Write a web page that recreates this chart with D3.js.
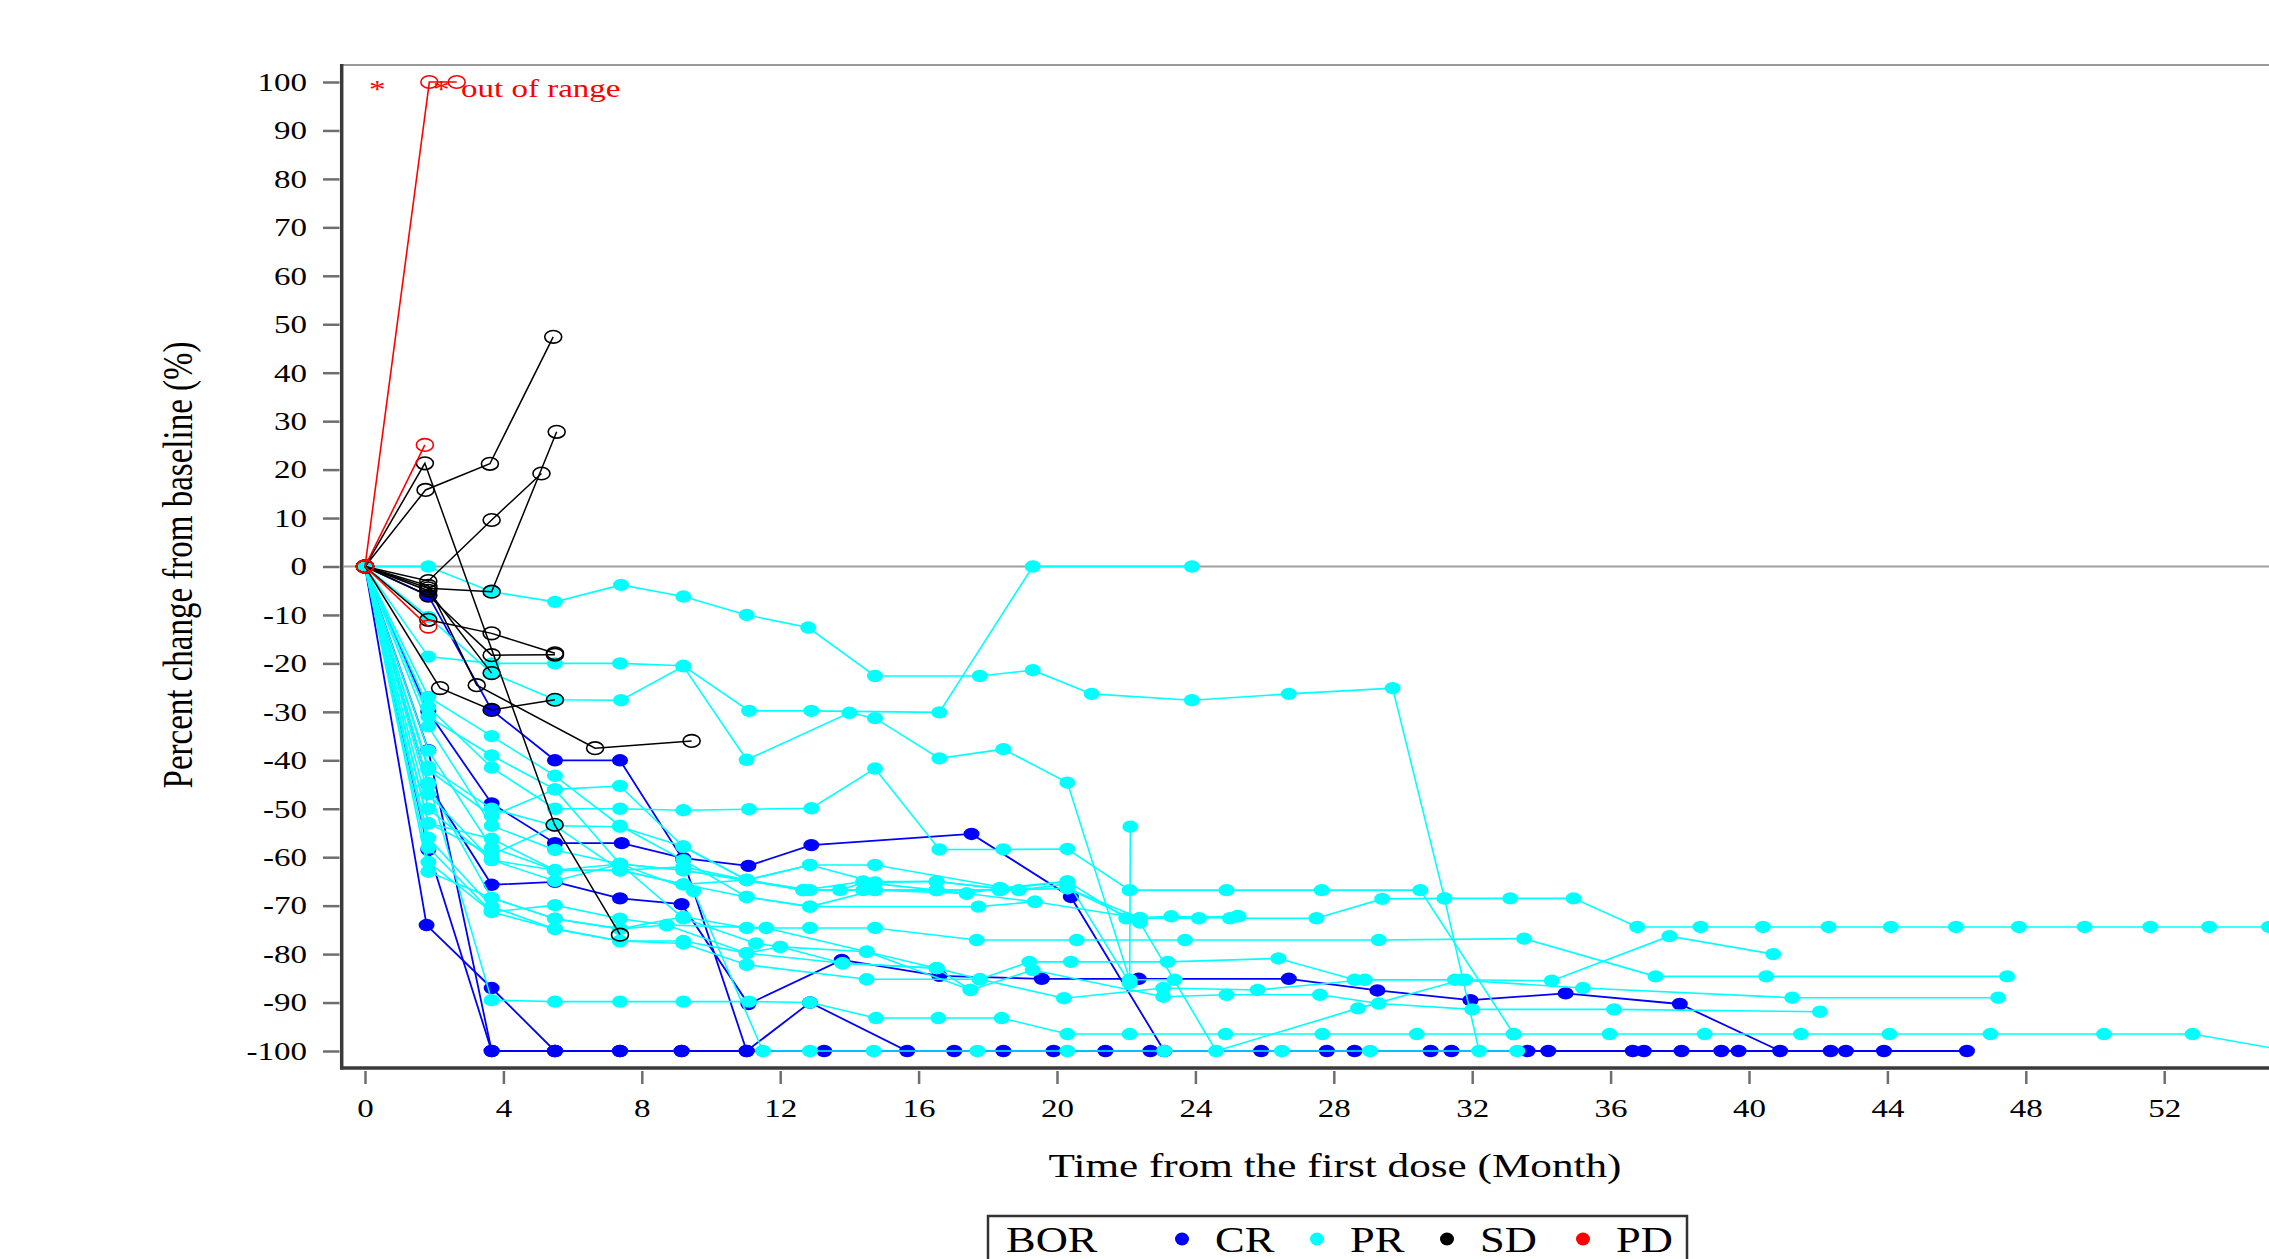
<!DOCTYPE html>
<html>
<head>
<meta charset="utf-8">
<style>
  body { margin: 0; background: #fff; }
  svg { display: block; }
  text { font-family: "Liberation Serif", "Times New Roman", serif; }
</style>
<script src="https://cdn.jsdelivr.net/npm/d3@7"></script>
</head>
<body>
<div id="container"></div>
<script>

// tick labels
const xTicks = [0, 4, 8, 12, 16, 20, 24, 28, 32, 36, 40, 44, 48, 52];
const yTicks = [-100, -90, -80, -70, -60, -50, -40, -30, -20, -10, 0, 10, 20, 30, 40, 50, 60, 70, 80, 90, 100];

// BOR = CR, one array per patient: [month, percent change]
const cr1 = [[0,0],[1.83,-37.9],[3.66,-100],[5.49,-100],[7.37,-100],[9.15,-100],[11.03,-100],[13.27,-100],[17.03,-100],[19.9,-100],[22.7,-100],[25.9,-100],[28.6,-100],[31.4,-100],[34.2,-100],[36.96,-100],[39.7,-100],[42.8,-100],[46.3,-100]];
const cr2 = [[0,0],[1.83,-30],[3.66,-48.9],[5.49,-57.1],[7.42,-57.1],[9.2,-60.2],[11.08,-61.8],[12.9,-57.5],[17.53,-55.2],[20.4,-68.2],[23.1,-100]];
const cr3 = [[0,0],[1.83,-45],[3.66,-65.7],[5.49,-65.1],[7.37,-68.5],[9.15,-69.7],[11.08,-90.3],[13.78,-81.2],[16.6,-84.5],[19.56,-85.1],[22.36,-85.1],[26.7,-85.1],[29.26,-87.5],[31.95,-89.5],[34.7,-88.1],[38.0,-90.3],[40.9,-100]];
const cr4 = [[0,0],[1.83,-6],[3.66,-29.6],[5.49,-40],[7.37,-40],[9.2,-60.6],[11.03,-100],[12.86,-90],[15.67,-100],[18.45,-100],[21.4,-100],[27.8,-100],[30.8,-100],[33.6,-100],[36.64,-100],[38.05,-100],[39.2,-100],[42.36,-100],[43.9,-100]];
const cr5 = [[0,0],[1.78,-74],[3.66,-87],[5.49,-100],[7.37,-100],[9.15,-100]];
const cr6 = [[0,0],[1.83,-58.5],[3.66,-100],[5.49,-100]];

// BOR = PR
const pr1 = [[0,0],[1.83,-18.6],[3.66,-20],[5.49,-20],[7.37,-20],[9.2,-20.5],[11.1,-29.8],[12.9,-29.8],[16.6,-30.1],[19.3,0],[23.9,0]];
const pr2 = [[0,0],[1.83,0],[3.66,-5.2],[5.49,-7.3],[7.4,-3.8],[9.2,-6.2],[11.03,-10],[12.81,-12.6],[14.74,-22.6],[17.77,-22.6],[19.3,-21.4],[21.0,-26.3],[23.9,-27.6],[26.7,-26.3],[29.7,-25.1],[31.2,-68.5],[32.2,-100]];
const pr3 = [[0,0],[1.83,-10.4],[3.66,-22],[5.49,-27.5],[7.4,-27.6],[9.2,-20.6],[11.03,-39.9],[14.0,-30.2],[14.74,-31.3],[16.6,-39.6],[18.45,-37.7],[20.3,-44.6],[22.1,-85.3],[23.4,-85.3]];
const pr4 = [[0,0],[1.83,-29],[3.66,-41.5],[5.49,-50],[7.37,-50],[9.2,-50.3],[11.1,-50.1],[12.9,-49.9],[14.74,-41.7],[16.6,-58.4],[18.45,-58.4],[20.3,-58.3],[22.1,-66.8],[24.9,-66.8],[27.65,-66.8],[30.5,-66.8],[33.2,-96.5]];
const pr5 = [[0,0],[1.83,-44.7],[3.66,-89.5],[5.49,-89.8],[7.37,-89.8],[9.2,-89.8],[11.1,-89.8],[12.86,-90],[14.77,-93.2],[16.57,-93.2],[18.4,-93.2],[20.3,-96.5],[22.1,-96.5],[24.87,-96.5],[27.67,-96.5],[30.4,-96.5],[33.2,-96.5],[35.97,-96.5],[38.72,-96.5],[41.5,-96.5],[44.06,-96.5],[46.98,-96.5],[50.26,-96.5],[52.82,-96.5],[55.6,-100]];
const pr6 = [[0,0],[1.83,-33],[3.66,-53.5],[5.49,-58.5],[7.37,-61.4],[9.2,-62.7],[11.03,-64.7],[12.67,-66.8],[14.4,-65],[16.52,-65],[18.35,-66.4],[20.3,-65],[22.0,-72.6],[23.3,-72.2],[25.0,-72.6],[27.5,-72.6],[29.4,-68.6],[31.2,-68.5],[33.1,-68.5],[34.93,-68.5],[36.77,-74.4],[38.6,-74.4],[40.4,-74.4],[42.3,-74.4],[44.1,-74.4],[45.98,-74.4],[47.8,-74.4],[49.7,-74.4],[51.6,-74.4],[53.3,-74.4],[55.03,-74.4]];
const pr7 = [[0,0],[1.83,-38],[3.66,-58],[5.49,-62.7],[7.37,-62.7],[9.2,-65.6],[11.03,-68.2],[12.86,-70.2],[14.74,-66.8],[16.52,-66.8],[18.35,-66.8],[20.3,-66.4],[22.4,-73.5],[24.6,-100],[28.7,-91.2],[31.7,-85.3],[34.3,-85.5],[37.7,-76.3],[40.7,-80]];
const pr8 = [[0,0],[1.83,-45],[3.66,-68.4],[5.49,-72.7],[7.37,-74.8],[9.2,-72.3],[11.03,-74.6],[12.86,-74.6],[14.74,-74.6],[17.68,-77.1],[20.57,-77.1],[23.7,-77.1],[29.3,-77.1],[33.5,-76.8],[37.3,-84.6],[40.5,-84.6],[47.46,-84.6]];
const pr9 = [[0,0],[1.83,-56],[3.66,-70.2],[5.49,-74.8],[7.37,-77.3],[9.2,-77.3],[11.03,-79.8],[13.8,-81.9],[16.52,-82.9],[17.77,-85.2],[20.2,-89.1],[23.07,-87],[25.8,-87.4],[28.9,-85.3],[31.5,-85.3],[35.2,-87],[41.25,-89],[47.2,-89]];
const pr10 = [[0,0],[1.83,-61],[3.66,-71.3],[5.49,-69.9],[7.37,-72.7],[8.72,-74],[11.6,-74.6],[14.5,-79.5],[17.5,-87.4],[19.3,-83.3],[23.07,-88.8],[24.9,-88.4],[27.6,-88.4],[29.3,-90.2],[32.0,-91.4],[36.1,-91.4],[42.05,-91.9]];
const pr11 = [[0,0],[1.83,-42],[3.66,-51.5],[5.49,-46],[7.37,-45.3],[9.2,-57.8],[11.03,-64.7],[12.86,-61.6],[14.74,-61.6],[18.9,-66.8],[20.3,-65.5]];
const pr12 = [[0,0],[1.83,-47],[3.66,-60.6],[5.49,-62.7],[7.37,-61.4],[9.2,-62.7],[12.67,-66.8],[13.73,-66.8],[14.4,-65.2],[16.52,-66.8],[17.39,-67.5],[19.36,-69.2],[22.4,-72.6],[25.2,-72.2]];
const pr13 = [[0,0],[1.83,-53],[3.66,-59.5],[5.49,-53.5],[7.37,-53.7],[9.2,-57.8],[11.03,-64.7],[12.86,-66.8],[14.74,-66.8],[17.39,-67.5],[18.35,-66.4]];
const pr14 = [[0,0],[1.83,-58],[3.66,-71.3],[5.49,-74.8],[7.37,-77.3],[9.2,-77.8],[11.03,-82.2],[14.5,-85.2],[17.77,-85.2],[19.2,-81.6],[20.4,-81.6],[23.2,-81.6],[26.4,-80.9],[28.6,-85.3],[31.8,-85.3]];
const pr15 = [[0,0],[1.83,-63],[3.66,-68.4],[5.49,-72.7],[7.37,-74.8],[8.72,-74],[11.03,-79.8],[12.0,-78.5],[14.5,-79.5],[16.52,-82.9],[17.5,-87.4]];
const pr16 = [[0,0],[1.83,-50],[3.66,-60.6],[5.49,-64.9],[7.37,-61.4],[9.5,-67],[11.5,-100],[12.86,-100],[14.7,-100],[17.7,-100],[20.3,-100],[23.1,-100],[26.5,-100],[29.05,-100],[33.3,-100]];
const pr17 = [[0,0],[1.83,-26.9],[3.66,-35],[5.49,-43.2],[7.37,-53.5],[9.2,-60.6],[11.03,-68.2],[12.86,-70.2],[17.73,-70.2],[19.36,-69.2]];
const pr18 = [[0,0],[1.83,-31],[3.66,-39],[5.49,-46],[7.37,-61.4],[9.2,-72.6],[11.3,-77.8],[12.0,-78.5],[13.8,-81.9],[16.52,-82.9]];
const pr19 = [[0,0],[1.83,-41.3],[3.66,-50],[5.49,-53.5],[7.37,-62.7],[9.2,-62],[11.03,-64.7],[12.67,-66.8],[14.4,-66.8],[16.52,-66.8],[18.35,-66.8],[20.3,-66.4],[22.4,-72.6],[24.1,-72.6],[25.25,-72.2]];
const pr20 = [[0,0],[1.83,-53],[3.66,-56.2],[5.49,-62.7],[7.37,-62.7],[9.2,-65.6],[11.03,-64.7],[12.86,-61.6],[14.74,-65.2],[16.52,-65],[18.4,-66.6],[20.3,-65],[22.1,-86],[22.12,-53.7]];

// BOR = SD
const sd1 = [[0,0],[1.73,21.3],[5.48,-53.3],[7.37,-76]];
const sd2 = [[0,0],[1.75,15.8],[3.61,21.2],[5.44,47.4]];
const sd3 = [[0,0],[1.83,-3],[3.66,9.6],[5.1,19.2]];
const sd4 = [[0,0],[1.83,-4.5],[3.66,-5.2],[5.54,27.8]];
const sd5 = [[0,0],[1.83,-11],[3.66,-13.8],[5.49,-17.9]];
const sd6 = [[0,0],[1.83,-6],[3.66,-18.3],[5.49,-18.2]];
const sd7 = [[0,0],[2.17,-25.1],[3.66,-29.6],[5.49,-27.5]];
const sd8 = [[0,0],[1.83,-4],[3.23,-24.5],[6.65,-37.5],[9.44,-36]];
const sd9 = [[0,0],[1.83,-5],[3.66,-22]];

// BOR = PD (100 = out of range)
const pd1 = [[0,0],[1.86,100],[2.65,100]];
const pd2 = [[0,0],[1.73,25.1]];
const pd3 = [[0,0],[1.83,-12.4]];

const crSeries = [cr1, cr2, cr3, cr4, cr5, cr6];
const prSeries = [pr1, pr2, pr3, pr4, pr5, pr6, pr7, pr8, pr9, pr10, pr11, pr12, pr13, pr14, pr15, pr16, pr17, pr18, pr19, pr20];
const sdSeries = [sd1, sd2, sd3, sd4, sd5, sd6, sd7, sd8, sd9];
const pdSeries = [pd1, pd2, pd3];

const borNames = ["CR", "PR", "SD", "PD"];
const borColors = ["#0000ff", "#00ffff", "#000000", "#ff0000"];

// the old output is stretched sideways, text follows that
const SX = 1.27;

function drawChart() {
  const width = 2269;
  const height = 1259;

  const svg = d3.select("#container").append("svg")
      .attr("width", width)
      .attr("height", height)
      .style("background", "#fff");

  const x = d3.scaleLinear().domain([0, 52]).range([365, 2164.2]);
  const y = d3.scaleLinear().domain([-100, 100]).range([1051, 82]);

  const plotLeft = 341.7;
  const plotTop = y(103.5);
  const plotBottom = y(-103.5);

  // frame and reference line
  svg.append("line")
      .attr("x1", plotLeft).attr("x2", width)
      .attr("y1", plotTop).attr("y2", plotTop)
      .attr("stroke", "#9a9a9a").attr("stroke-width", 2);

  svg.append("line")
      .attr("x1", plotLeft + 2).attr("x2", width)
      .attr("y1", y(0)).attr("y2", y(0))
      .attr("stroke", "#a0a0a0").attr("stroke-width", 2);

  // plain hyphen for negatives, like the original
  const fmt = d => String(d);

  // y axis
  const yAxis = svg.append("g")
      .attr("transform", "translate(339.5,0)")
      .call(d3.axisLeft(y).tickValues(yTicks).tickFormat(fmt).tickSize(16.5).tickPadding(16).tickSizeOuter(0));
  yAxis.select(".domain").remove();
  yAxis.selectAll(".tick line").attr("stroke", "#6e6e6e").attr("stroke-width", 2.5);
  yAxis.selectAll(".tick text")
      .attr("x", -32.5 / SX)
      .attr("transform", `scale(${SX},1)`)
      .style("font-size", "26px")
      .style("font-family", "Liberation Serif")
      .style("fill", "#000");

  // x axis
  const xAxis = svg.append("g")
      .attr("transform", "translate(0,1071)")
      .call(d3.axisBottom(x).tickValues(xTicks).tickFormat(fmt).tickSize(13).tickPadding(15).tickSizeOuter(0));
  xAxis.select(".domain").remove();
  xAxis.selectAll(".tick line").attr("stroke", "#6e6e6e").attr("stroke-width", 2.5);
  xAxis.selectAll(".tick text")
      .attr("transform", `scale(${SX},1)`)
      .style("font-size", "26px")
      .style("font-family", "Liberation Serif")
      .style("fill", "#000");

  svg.append("line")
      .attr("x1", plotLeft).attr("x2", plotLeft)
      .attr("y1", plotTop - 1).attr("y2", plotBottom + 1.5)
      .attr("stroke", "#3a3a3a").attr("stroke-width", 3.5);

  svg.append("line")
      .attr("x1", plotLeft - 1.7).attr("x2", width)
      .attr("y1", plotBottom).attr("y2", plotBottom)
      .attr("stroke", "#3a3a3a").attr("stroke-width", 3.5);

  // patient lines
  const line = d3.line().x(d => x(d[0])).y(d => y(d[1]));

  function drawGroup(list, color, filled, lw) {
    const g = svg.append("g");
    list.forEach(s => {
      g.append("path")
          .attr("d", line(s))
          .attr("fill", "none")
          .attr("stroke", color)
          .attr("stroke-width", lw);
      g.selectAll(null)
        .data(s)
        .join("ellipse")
          .attr("cx", d => x(d[0]))
          .attr("cy", d => y(d[1]))
          .attr("rx", filled ? 8 : 8.5)
          .attr("ry", filled ? 6.2 : 6.3)
          .attr("fill", filled ? color : "none")
          .attr("stroke", filled ? "none" : color)
          .attr("stroke-width", 1.6);
    });
  }

  drawGroup(crSeries, borColors[0], true, 1.8);
  drawGroup(prSeries, borColors[1], true, 1.6);
  drawGroup(sdSeries, borColors[2], false, 1.5);
  drawGroup(pdSeries, borColors[3], false, 1.6);

  // stretched text helper
  function sText(txt, tx, ty, size, color) {
    return svg.append("text")
        .attr("transform", `translate(${tx},${ty}) scale(${SX},1)`)
        .style("font-size", size + "px")
        .style("fill", color || "#000")
        .text(txt);
  }

  // out of range note
  sText("*", 369, 98, 26, "#ff0000");
  sText("*", 433, 98, 26, "#ff0000");
  sText("out of range", 461, 97, 26, "#ff0000");

  // axis titles
  sText("Time from the first dose (Month)", 1335, 1177, 34).attr("text-anchor", "middle");

  svg.append("text")
      .attr("transform", `translate(192,565) scale(${SX},1) rotate(-90)`)
      .attr("text-anchor", "middle")
      .style("font-size", "33px")
      .style("fill", "#000")
      .text("Percent change from baseline (%)");

  // legend
  svg.append("rect")
      .attr("x", 988).attr("y", 1216)
      .attr("width", 699).attr("height", 80)
      .attr("fill", "none")
      .attr("stroke", "#333").attr("stroke-width", 2.5);

  sText("BOR", 1006, 1252, 35);

  const legX = [1182, 1317, 1447, 1583];
  borNames.forEach((nm, i) => {
    svg.append("ellipse")
        .attr("cx", legX[i]).attr("cy", 1239)
        .attr("rx", 7).attr("ry", 6.5)
        .attr("fill", borColors[i]);
    sText(nm, legX[i] + 33, 1252, 35);
  });
}

drawChart();

</script>
</body>
</html>
